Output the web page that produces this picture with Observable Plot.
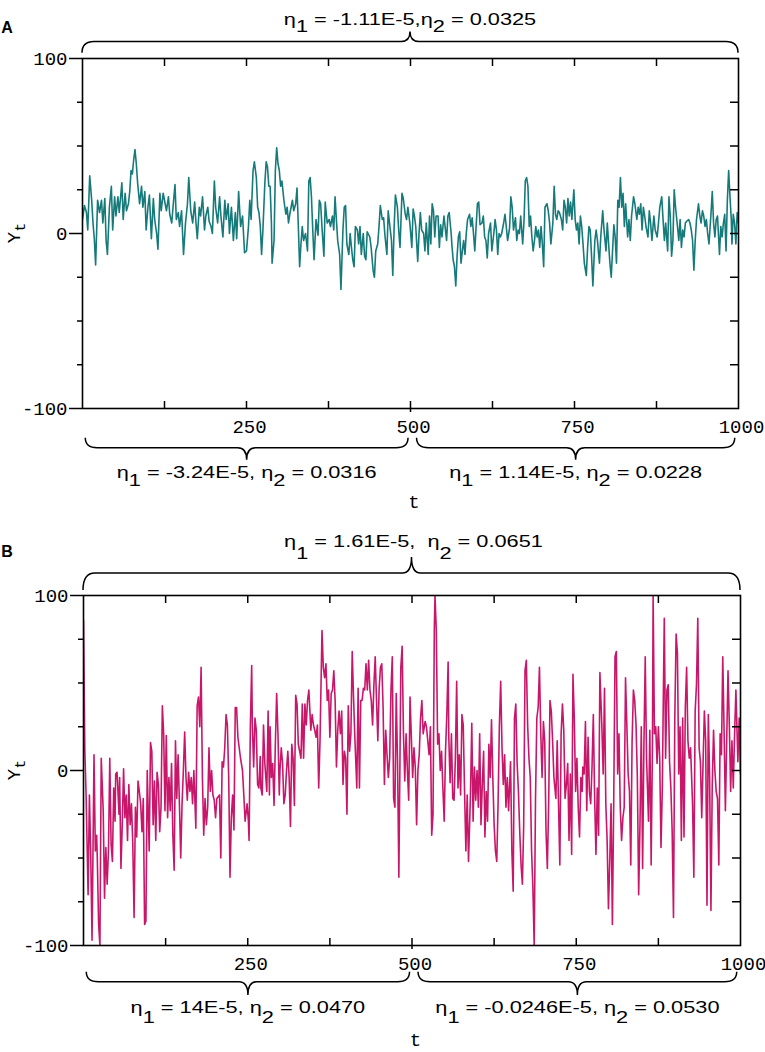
<!DOCTYPE html>
<html><head><meta charset="utf-8">
<script src="https://cdn.jsdelivr.net/npm/d3@7"></script>
<script src="https://cdn.jsdelivr.net/npm/@observablehq/plot@0.6"></script>
<style>
html, body { margin:0; padding:0; background:#fff; overflow:hidden; width:765px; color:#000; }
#root svg { display:block; }
</style></head><body><div id="root"></div>
<script>
// ---- data: [t, Y_t] vertices ----
const seriesA = [[0,8],[3,16],[6,12],[8,2],[11,33],[14,19],[16,6],[18,-3],[20,-18],[23,19],[26,12],[29,19],[31,6],[34,20],[36,-4],[38,-12],[41,15],[44,27],[46,2],[49,21],[51,10],[54,21],[56,12],[60,29],[62,8],[65,23],[67,13],[70,17],[72,24],[74,36],[76,34],[78,42],[80,48],[82,40],[84,29],[87,17],[90,27],[92,15],[95,24],[97,2],[100,16],[102,22],[105,-3],[108,20],[110,8],[113,0],[115,-9],[118,23],[120,13],[123,23],[126,17],[128,13],[131,21],[133,11],[136,6],[138,15],[141,28],[143,8],[146,12],[148,4],[151,13],[154,-12],[157,6],[160,17],[162,32],[165,13],[168,6],[171,18],[173,6],[175,-3],[178,15],[180,10],[183,21],[186,2],[188,10],[191,15],[193,7],[196,4],[198,0],[201,30],[203,15],[206,6],[209,21],[211,10],[214,-2],[217,19],[219,8],[222,17],[224,0],[227,15],[230,-4],[233,12],[235,-3],[238,24],[241,4],[244,10],[247,-11],[250,-10],[253,4],[255,19],[257,8],[260,36],[262,41],[265,32],[267,15],[269,12],[271,4],[273,-12],[275,2],[278,29],[280,41],[282,38],[284,27],[286,27],[288,6],[289,-17],[292,-4],[294,36],[296,49],[298,40],[300,36],[302,27],[304,30],[307,19],[310,11],[312,15],[314,6],[316,11],[318,15],[320,19],[322,13],[325,17],[327,26],[329,4],[331,-19],[333,-6],[335,4],[337,-4],[340,0],[343,-10],[345,30],[347,32],[349,21],[351,2],[353,-15],[356,8],[359,-1],[361,19],[363,17],[365,4],[368,-13],[370,18],[373,6],[376,8],[378,4],[381,10],[383,2],[385,21],[387,8],[389,-4],[392,-12],[394,-32],[397,2],[399,15],[401,16],[403,-6],[406,-12],[408,0],[410,-8],[412,-15],[414,-19],[416,4],[419,2],[421,-6],[423,4],[425,-12],[428,0],[430,-13],[432,-15],[434,1],[438,-2],[440,-8],[443,-21],[445,-25],[447,-10],[450,-6],[452,4],[454,16],[457,8],[459,9],[461,-1],[464,-12],[466,13],[468,6],[471,-4],[473,-24],[475,3],[477,22],[480,15],[482,2],[484,-8],[487,23],[489,20],[492,11],[494,8],[496,15],[499,6],[502,-8],[504,14],[506,10],[508,4],[511,-16],[513,0],[515,12],[517,2],[520,0],[522,-10],[524,6],[527,-12],[529,10],[531,-6],[533,17],[535,13],[537,-2],[539,10],[542,10],[544,-8],[546,5],[548,-2],[551,10],[553,3],[555,-4],[557,10],[559,12],[562,0],[563,-6],[565,-15],[567,-19],[569,-30],[571,-13],[573,-2],[575,1],[577,-17],[579,-10],[581,-4],[583,-12],[585,0],[587,8],[590,11],[592,4],[594,9],[596,0],[598,-10],[600,4],[602,17],[604,18],[606,5],[609,6],[611,10],[613,-2],[615,-4],[617,-14],[619,0],[622,6],[624,-10],[627,0],[629,8],[631,2],[633,-12],[635,0],[637,-2],[639,0],[642,6],[644,11],[646,4],[648,-4],[651,3],[653,21],[655,15],[657,2],[660,9],[662,-4],[664,2],[666,0],[668,10],[671,-6],[673,7],[675,30],[677,32],[679,27],[681,4],[683,10],[685,-2],[687,-10],[689,-4],[691,4],[693,-2],[695,2],[697,-8],[699,4],[701,-6],[703,-19],[705,15],[708,17],[710,13],[712,6],[714,-6],[717,6],[719,27],[721,11],[723,8],[725,13],[727,12],[730,8],[732,2],[734,19],[736,15],[738,6],[740,20],[742,10],[744,18],[746,8],[749,25],[751,8],[753,2],[755,6],[757,-6],[759,10],[761,4],[763,-6],[765,-17],[768,-24],[770,-8],[772,4],[774,2],[776,-13],[778,-30],[781,-4],[783,2],[785,-4],[788,-17],[790,-2],[793,13],[795,2],[798,-10],[800,6],[802,-6],[804,-17],[806,-25],[808,-10],[810,5],[812,-2],[814,-17],[816,19],[818,15],[820,32],[822,15],[824,23],[826,4],[828,17],[831,-2],[833,8],[835,-4],[837,10],[840,21],[842,17],[845,8],[847,15],[849,11],[851,17],[853,2],[855,15],[857,10],[859,4],[862,-2],[864,13],[866,6],[868,-4],[871,10],[873,2],[876,-2],[878,6],[880,15],[883,21],[885,8],[887,-4],[889,6],[892,-10],[894,21],[896,10],[898,-13],[900,-4],[902,25],[904,15],[907,4],[909,-4],[911,8],[913,-8],[915,2],[917,-2],[919,6],[921,7],[924,8],[926,6],[928,2],[930,-4],[932,-21],[934,-4],[936,8],[939,17],[941,10],[943,6],[945,13],[947,10],[949,4],[951,8],[953,0],[955,-6],[958,11],[960,24],[962,6],[964,-2],[966,8],[968,10],[971,-12],[973,4],[975,-2],[977,6],[979,11],[981,-10],[983,19],[985,36],[987,21],[989,8],[990,-6],[992,11],[994,6],[996,-6],[998,12],[1000,6]];

const seriesB = [[0,86],[2,12],[4,-15],[7,-71],[9,-14],[11,-48],[13,-97],[16,9],[18,-46],[20,-37],[21,-50],[23,-88],[25,-100],[27,7],[30,-23],[32,-73],[34,-44],[36,-65],[38,-46],[40,7],[42,-42],[44,-52],[46,-10],[48,-29],[49,-2],[51,-1],[52,-8],[54,-25],[55,-4],[57,-56],[59,-31],[61,1],[63,-27],[65,-14],[67,-40],[69,-8],[71,-31],[73,-19],[75,-42],[77,-84],[79,-21],[81,-38],[83,-6],[85,-12],[87,-19],[89,-35],[91,-16],[93,-88],[95,-86],[97,0],[100,-46],[102,16],[104,11],[106,-31],[108,-6],[110,-40],[112,-1],[114,-8],[116,-35],[118,-21],[120,37],[122,21],[124,-23],[126,20],[128,-27],[130,-4],[132,-23],[134,4],[136,-37],[138,-57],[140,17],[142,-16],[144,9],[146,-19],[148,-50],[150,-19],[152,0],[154,22],[156,-4],[158,-17],[160,-1],[162,-12],[164,-4],[166,-19],[168,0],[171,-33],[173,37],[175,42],[177,25],[179,59],[181,-4],[183,-37],[185,-16],[187,-31],[189,-21],[191,13],[193,-12],[195,0],[197,-14],[199,-17],[201,-27],[203,-16],[205,-15],[207,-14],[209,-50],[211,5],[213,2],[215,13],[217,32],[219,26],[221,-4],[223,-61],[225,-27],[227,-14],[229,-34],[231,36],[233,36],[235,19],[237,13],[239,7],[242,0],[244,-14],[246,-29],[249,-19],[251,-29],[252,-40],[254,26],[256,60],[257,26],[259,2],[261,30],[263,23],[265,-8],[267,-10],[269,8],[270,-10],[272,-14],[274,26],[276,4],[279,-12],[281,34],[283,-14],[284,25],[286,-4],[288,4],[290,-20],[292,15],[294,44],[296,21],[298,-14],[299,0],[301,13],[303,4],[305,-19],[307,-14],[309,0],[311,11],[313,-4],[315,-32],[317,15],[319,7],[321,-20],[323,43],[325,38],[327,15],[329,11],[331,7],[333,38],[335,7],[337,38],[339,26],[341,40],[343,46],[346,23],[348,32],[350,26],[352,23],[354,19],[356,26],[358,-10],[360,17],[363,80],[365,59],[367,53],[369,61],[371,40],[373,46],[375,19],[377,44],[379,46],[381,57],[383,40],[385,2],[387,23],[389,34],[391,21],[393,34],[395,-8],[397,11],[399,7],[401,-25],[403,37],[405,11],[407,21],[409,68],[411,42],[413,19],[416,-10],[418,47],[420,-10],[422,40],[424,40],[426,47],[428,46],[430,61],[432,46],[434,63],[436,46],[438,40],[440,26],[442,49],[444,65],[446,40],[448,17],[450,47],[452,59],[454,61],[456,36],[458,-8],[460,23],[462,9],[464,-4],[466,7],[468,46],[470,65],[472,-16],[474,-21],[476,44],[478,4],[480,-61],[483,59],[485,71],[487,21],[489,-6],[491,21],[493,0],[495,-17],[497,42],[499,19],[501,-4],[503,13],[505,2],[507,-31],[509,0],[511,9],[513,30],[515,40],[517,21],[520,28],[522,25],[524,17],[526,9],[528,25],[530,-37],[532,-25],[534,82],[535,100],[537,80],[539,15],[541,21],[543,0],[545,11],[547,-10],[549,-29],[551,11],[553,32],[555,62],[556,19],[558,-7],[560,21],[562,-16],[564,-17],[566,7],[568,51],[570,-10],[572,9],[574,-14],[576,32],[578,26],[580,-12],[582,-46],[584,-14],[586,-52],[589,-14],[591,27],[593,-29],[595,2],[597,-17],[599,0],[601,-21],[603,21],[605,-31],[607,-8],[609,11],[611,-38],[613,-12],[615,-29],[617,15],[619,-4],[621,29],[623,-4],[625,-31],[627,-46],[629,-52],[631,-19],[633,26],[635,51],[637,13],[639,-8],[641,9],[643,-21],[645,-4],[647,-23],[650,5],[652,-46],[654,-69],[656,30],[658,38],[660,4],[662,-12],[664,-35],[666,-54],[668,-65],[670,-31],[672,57],[674,63],[676,26],[678,7],[680,-4],[682,-46],[684,-67],[686,-100],[688,-16],[690,30],[692,36],[694,59],[696,21],[698,-4],[700,28],[702,17],[704,-35],[706,-56],[708,-19],[710,40],[712,34],[714,17],[716,-4],[719,-16],[721,17],[723,-19],[725,-54],[727,21],[729,38],[731,23],[733,-16],[735,-8],[737,4],[739,-40],[741,-2],[743,-48],[745,55],[747,30],[749,-12],[751,7],[753,-21],[755,-38],[757,-4],[759,-12],[760,2],[762,-2],[764,28],[766,-23],[768,19],[770,-12],[772,-19],[774,2],[776,32],[778,-16],[780,-48],[782,-10],[784,-37],[786,56],[789,25],[791,-2],[793,47],[795,-19],[797,-40],[799,-79],[801,-52],[803,-19],[805,-88],[807,-19],[809,65],[811,68],[813,-2],[815,21],[817,-21],[819,-40],[821,-27],[823,-21],[825,53],[827,26],[829,-2],[831,-12],[833,-54],[835,17],[837,46],[839,40],[841,26],[843,-4],[845,-71],[847,-31],[849,25],[851,-56],[853,15],[855,65],[857,7],[860,-29],[862,23],[864,-54],[866,15],[867,100],[869,21],[871,25],[873,4],[875,25],[877,7],[879,-44],[881,-10],[883,57],[884,87],[886,7],[888,46],[890,49],[892,5],[894,-10],[896,-35],[898,-84],[900,30],[902,78],[904,67],[906,-2],[908,25],[910,-40],[912,30],[914,-38],[916,36],[918,59],[920,17],[922,7],[924,13],[927,-19],[929,-61],[931,34],[933,49],[935,87],[937,13],[939,5],[941,-27],[943,4],[945,34],[947,17],[949,-77],[951,32],[953,-4],[955,-80],[957,-8],[959,23],[961,0],[963,-12],[965,-16],[967,-54],[969,21],[971,9],[973,65],[975,23],[977,-23],[979,17],[981,57],[983,26],[985,-12],[987,17],[989,-10],[991,21],[993,46],[996,5],[998,30],[1000,-2]];

// tick values
const yTicksMajor = [-100, 0, 100];
const yTicksMinor = [-75, -50, -25, 25, 50, 75];
const yTicksInner = [-75, -50, -25, 0, 25, 50, 75];
const xTicksInner = [125, 250, 375, 500, 625, 750, 875];
const xTickLabels = [250, 500, 750, 1000];

// eta annotations [eta1, eta2]
const etaTopA = ["-1.11E-5", "0.0325"];
const etaLeftA = ["-3.24E-5", "0.0316"];
const etaRightA = ["1.14E-5", "0.0228"];
const etaTopB = ["1.61E-5", "0.0651"];
const etaLeftB = ["14E-5", "0.0470"];
const etaRightB = ["-0.0246E-5", "0.0530"];

// brace spans in t units
const braceTopSpan = [0, 1000];
const braceLeftSpan = [5, 497];
const braceRightSpan = [510, 995];

const SANS = "'Liberation Sans', Arial, sans-serif";
const MONO = "'Liberation Mono', 'Courier New', monospace";

function decorations(cfg) {
  return (index, scales, values, dims) => {
    const {x} = scales;
    const top = dims.marginTop, bottom = dims.height - dims.marginBottom;
    const g = d3.create("svg:g");
    const brace = (span, yEnd, yLine, yCusp) => {
      const x0 = x(span[0]), x1 = x(span[1]), xm = (x0 + x1) / 2;
      return `M${x0},${yEnd}Q${x0},${yLine} ${x0 + 12},${yLine}L${xm - 9},${yLine}Q${xm},${yLine} ${xm},${yCusp}Q${xm},${yLine} ${xm + 9},${yLine}L${x1 - 12},${yLine}Q${x1},${yLine} ${x1},${yEnd}`;
    };
    const bt = cfg.braceTop, bb = cfg.braceBottom;
    g.append("path").attr("d", brace(braceTopSpan, top + bt[0], top + bt[1], top + bt[2]))
      .attr("fill", "none").attr("stroke", "black").attr("stroke-width", 1.5);
    g.append("path").attr("d", brace(braceLeftSpan, bottom + bb[0], bottom + bb[1], bottom + bb[2]))
      .attr("fill", "none").attr("stroke", "black").attr("stroke-width", 1.5);
    g.append("path").attr("d", brace(braceRightSpan, bottom + bb[0], bottom + bb[1], bottom + bb[2]))
      .attr("fill", "none").attr("stroke", "black").attr("stroke-width", 1.5);

    const eta = (cx, base, sub, vals, gap) => {
      const t = g.append("text")
        .attr("transform", `translate(${cx},${base}) scale(1.28,1)`)
        .attr("text-anchor", "middle").attr("font-family", SANS).attr("font-size", 17)
        .attr("fill", "black").style("white-space", "pre");
      t.append("tspan").text("η");
      t.append("tspan").attr("dy", sub).text("1");
      t.append("tspan").attr("dy", -sub).text(` = ${vals[0]},${gap}η`);
      t.append("tspan").attr("dy", sub).text("2");
      t.append("tspan").attr("dy", -sub).text(` = ${vals[1]}`);
    };
    const mid = s => x((s[0] + s[1]) / 2);
    eta(mid(braceTopSpan) + cfg.topDx, top + cfg.topText, cfg.topSub, cfg.etaTop, cfg.topGap);
    eta(mid(braceLeftSpan), bottom + cfg.bottomText, cfg.bottomSub, cfg.etaLeft, " ");
    eta(mid(braceRightSpan), bottom + cfg.bottomText, cfg.bottomSub, cfg.etaRight, " ");

    // panel letter
    g.append("text").attr("x", 7).attr("y", cfg.letterY).attr("font-family", SANS)
      .attr("font-weight", "bold").attr("font-size", 16).attr("fill", "black").text(cfg.letter);

    // y label
    const yl = g.append("text")
      .attr("transform", `translate(20,${(top + bottom) / 2}) rotate(-90)`)
      .attr("text-anchor", "middle").attr("font-family", MONO).attr("font-size", 19).attr("fill", "black");
    yl.append("tspan").text("Y");
    yl.append("tspan").attr("dy", 5).attr("font-size", 15).text("t");

    // x label
    g.append("text").attr("x", x(500) + 4).attr("y", bottom + cfg.tY)
      .attr("text-anchor", "middle").attr("font-family", MONO).attr("font-size", 19)
      .attr("fill", "black").text("t");
    return g.node();
  };
}

function panel(series, color, cfg) {
  return Plot.plot({
    width: 765,
    height: cfg.height,
    marginTop: cfg.marginTop,
    marginBottom: cfg.marginBottom,
    marginLeft: cfg.marginLeft,
    marginRight: cfg.marginRight,
    x: {domain: [0, 1000]},
    y: {domain: [-100, 100]},
    style: {background: "white", fontFamily: SANS, color: "black"},
    marks: [
      Plot.line(series, {x: d => d[0], y: d => d[1], stroke: color, strokeWidth: 1.6, clip: true}),
      Plot.frame({stroke: "black", strokeWidth: 1.6}),
      Plot.axisY(yTicksMajor, {anchor: "left", tickSize: 13, tickPadding: 2, fontFamily: MONO, fontSize: 19,
        tickFormat: d => String(d), strokeWidth: 1.5, label: null}),
      Plot.axisY(yTicksMinor, {anchor: "left", tickSize: 5, text: null, strokeWidth: 1.5, label: null}),
      Plot.axisY(yTicksInner, {anchor: "right", tickSize: -9, text: null, strokeWidth: 1.5, label: null}),
      Plot.axisX(xTicksInner, {anchor: "top", tickSize: -7, text: null, strokeWidth: 1.5, label: null}),
      Plot.axisX(xTicksInner, {anchor: "bottom", tickSize: -7, text: null, strokeWidth: 1.5, label: null}),
      Plot.axisX([500], {anchor: "bottom", tickSize: 4, text: null, strokeWidth: 1.5, label: null}),
      Plot.axisX(xTickLabels, {anchor: "bottom", tickSize: 0, tickPadding: 18, lineAnchor: "middle", dx: 3,
        fontFamily: MONO, fontSize: 19, tickFormat: d => String(d), label: null}),
      decorations(cfg)
    ]
  });
}

const root = document.getElementById("root");
root.append(panel(seriesA, "#167a7b", {
  height: 520, marginTop: 58, marginBottom: 112, marginLeft: 82, marginRight: 27,
  letter: "A", letterY: 33,
  etaTop: etaTopA, etaLeft: etaLeftA, etaRight: etaRightA,
  topText: -33, topSub: 7, topGap: "", topDx: 0,
  braceTop: [-5.3, -16.6, -26.6], braceBottom: [29.7, 39.7, 51.7],
  bottomText: 69.7, bottomSub: 8, tY: 100
}));
root.append(panel(seriesB, "#c8176b", {
  height: 532, marginTop: 75, marginBottom: 107, marginLeft: 83, marginRight: 25,
  letter: "B", letterY: 37,
  etaTop: etaTopB, etaLeft: etaLeftB, etaRight: etaRightB,
  topText: -48, topSub: 12, topGap: "  ", topDx: 2,
  braceTop: [-5, -22, -38], braceBottom: [26.7, 36.7, 50],
  bottomText: 68.3, bottomSub: 10, tY: 101
}));
</script>
</body></html>
